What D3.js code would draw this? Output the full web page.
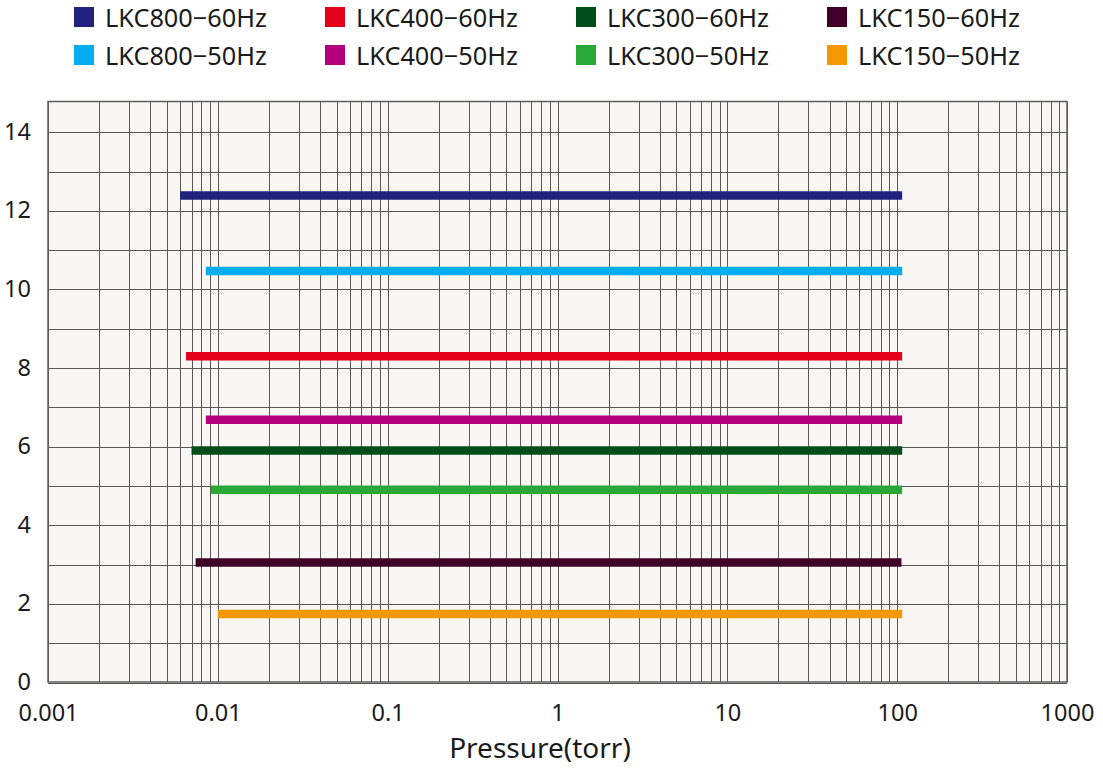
<!DOCTYPE html>
<html>
<head>
<meta charset="utf-8">
<style>
    body { margin: 0; background: #fff; }
    svg text { font-family: "Noto Sans", "Open Sans", sans-serif; fill: #1a1a1a; }
    .grid line { stroke: #585858; stroke-width: 1px; shape-rendering: crispEdges; }
    .frame { fill: none; stroke: #5e5e5e; stroke-width: 1.5px; }
</style>
</head>
<body>
<script src="https://cdn.jsdelivr.net/npm/d3@7"></script>
<script>
// series
var names  = ["LKC800-60Hz", "LKC800-50Hz", "LKC400-60Hz", "LKC400-50Hz",
              "LKC300-60Hz", "LKC300-50Hz", "LKC150-60Hz", "LKC150-50Hz"];
var colors = ["#21227f", "#00aeef", "#e2001a", "#b4007c",
              "#004d1a", "#2aa837", "#3f0029", "#f39800"];
var levels = [12.38, 10.46, 8.29, 6.67, 5.89, 4.89, 3.04, 1.73];
var starts = [0.0060, 0.0085, 0.0065, 0.0085, 0.0070, 0.0091, 0.0074, 0.0100];
var ends   = [107, 107, 107, 107, 107, 107, 106, 107];

// legend order (two rows, four columns)
var legendOrder = ["LKC800-60Hz", "LKC400-60Hz", "LKC300-60Hz", "LKC150-60Hz",
                   "LKC800-50Hz", "LKC400-50Hz", "LKC300-50Hz", "LKC150-50Hz"];

var xTicks = [0.001, 0.01, 0.1, 1, 10, 100, 1000];
var yTicks = [0, 2, 4, 6, 8, 10, 12, 14];

var W = 1103, H = 769;
var margin = { top: 101.5, right: 36, bottom: 87, left: 48 };
var width = W - margin.left - margin.right,
    height = H - margin.top - margin.bottom;

var svg = d3.select("body").append("svg")
    .attr("width", W)
    .attr("height", H);

var g = svg.append("g")
    .attr("transform", "translate(" + margin.left + "," + margin.top + ")");

var x = d3.scaleLog().domain([0.001, 1000]).range([0, width]);
var y = d3.scaleLinear().domain([0, 14.77]).range([height, 0]);

g.append("rect")
    .attr("width", width)
    .attr("height", height)
    .attr("fill", "#f8f7f4");

// minor + major vertical grid
var vgrid = [];
for (var e = -3; e < 3; e++) {
    for (var m = 1; m <= 9; m++) vgrid.push(m * Math.pow(10, e));
}
vgrid.push(1000);

var grid = g.append("g").attr("class", "grid");
grid.selectAll(".v").data(vgrid).enter().append("line")
    .attr("class", "v")
    .attr("x1", function(d) { return Math.round(x(d)) + 0.5; })
    .attr("x2", function(d) { return Math.round(x(d)) + 0.5; })
    .attr("y1", 0)
    .attr("y2", height);

grid.selectAll(".h").data(d3.range(0, 15)).enter().append("line")
    .attr("class", "h")
    .attr("x1", 0)
    .attr("x2", width)
    .attr("y1", function(d) { return Math.round(y(d)) + 0.5; })
    .attr("y2", function(d) { return Math.round(y(d)) + 0.5; });

g.append("rect")
    .attr("class", "frame")
    .attr("width", width)
    .attr("height", height);

// bars of operating range
var rows = names.map(function(n, i) {
    return { name: n, color: colors[i], y: levels[i], x0: starts[i], x1: ends[i] };
});

g.selectAll(".range").data(rows).enter().append("line")
    .attr("class", "range")
    .attr("x1", function(d) { return x(d.x0); })
    .attr("x2", function(d) { return x(d.x1); })
    .attr("y1", function(d) { return y(d.y); })
    .attr("y2", function(d) { return y(d.y); })
    .attr("stroke", function(d) { return d.color; })
    .attr("stroke-width", 8.5);

// axes (labels only)
var xAxis = d3.axisBottom(x)
    .tickValues(xTicks)
    .tickFormat(function(d) { return String(+d.toPrecision(1)); })
    .tickSize(0)
    .tickPadding(22);

var gx = g.append("g")
    .attr("transform", "translate(0," + height + ")")
    .call(xAxis);
gx.select(".domain").remove();
gx.selectAll("text").attr("font-size", 23.5).attr("fill", "#1a1a1a")
    .attr("font-family", "'Noto Sans', sans-serif");

var yAxis = d3.axisLeft(y)
    .tickValues(yTicks)
    .tickSize(0)
    .tickPadding(17);

var gy = g.append("g").call(yAxis);
gy.select(".domain").remove();
gy.selectAll("text").attr("font-size", 23.5).attr("fill", "#1a1a1a")
    .attr("font-family", "'Noto Sans', sans-serif");

g.append("text")
    .attr("x", x(1) - 17.5)
    .attr("y", height + 76)
    .attr("text-anchor", "middle")
    .attr("font-size", 28)
    .text("Pressure(torr)");

// legend
var legend = svg.append("g");
var items = legend.selectAll(".item").data(legendOrder).enter().append("g")
    .attr("class", "item")
    .attr("transform", function(d, i) {
        var col = i % 4, row = Math.floor(i / 4);
        return "translate(" + (74 + col * 251) + "," + (7 + row * 38) + ")";
    });

items.append("rect")
    .attr("width", 20)
    .attr("height", 20)
    .attr("fill", function(d) { return colors[names.indexOf(d)]; });

items.append("text")
    .attr("x", 31)
    .attr("y", 20)
    .attr("font-size", 25.3)
    .text(function(d) { return d.replace("-", "\u2212"); });
</script>
</body>
</html>
